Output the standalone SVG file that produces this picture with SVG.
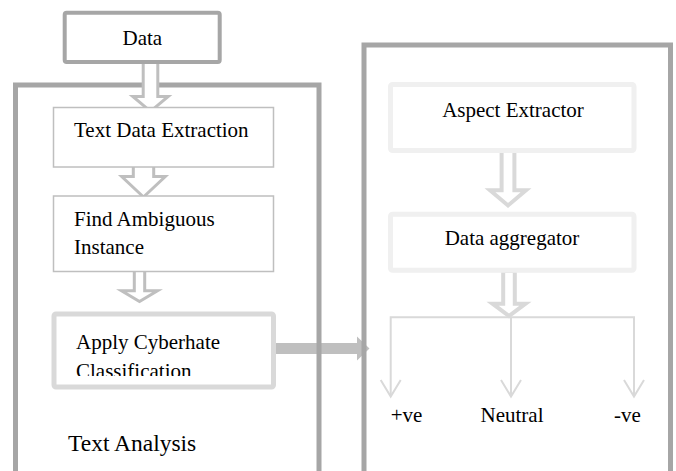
<svg xmlns="http://www.w3.org/2000/svg" width="676" height="471" viewBox="0 0 676 471">
<style>
text{font-family:"Liberation Serif","Times New Roman",serif;font-size:21px;fill:#000}
.container{fill:none;stroke:#a6a6a6;stroke-width:5}
.thin{fill:#fff;stroke:#bfbfbf;stroke-width:1.5}
.light{fill:#fff;stroke:#f0f0f0;stroke-width:5}
.hollowL{fill:#fff;stroke:#bfbfbf;stroke-width:3;stroke-linejoin:miter}
.hollowR{fill:#fff;stroke:#d9d9d9;stroke-width:4;stroke-linejoin:miter}
.split{fill:none;stroke:#d9d9d9;stroke-width:2}
</style>
<defs>
<clipPath id="clipApply"><rect x="0" y="0" width="676" height="376"/></clipPath>
</defs>
<rect width="676" height="471" fill="#fff"/>
<g id="connectors">
<polygon points="269,343 357,343 357,336.5 369.5,348.5 357,360.5 357,354 269,354" fill="#bfbfbf"/>
</g>
<g id="text-analysis">
<rect class="container" x="15.5" y="85" width="303.5" height="420"/>
<text x="68" y="450.7" style="font-size:23.5px">Text Analysis</text>
</g>
<g id="sentiment-panel">
<rect class="container" x="364" y="45" width="306.5" height="460"/>
</g>
<g id="arrows">
<polygon class="hollowL" points="143.2,58 157.8,58 157.8,96.5 168.2,96.5 150.5,111.3 132.8,96.5 143.2,96.5"/>
<polygon class="hollowL" points="133.3,164 153.7,164 153.7,176.5 165.3,176.5 143.5,197 121.7,176.5 133.3,176.5"/>
<polygon class="hollowL" points="134.3,270 144.7,270 144.7,290.8 157.5,290.8 139.5,301.5 121.5,290.8 134.3,290.8"/>
<polygon class="hollowR" points="501.6,150 514.4,150 514.4,190.3 526,190.3 508,205.5 490,190.3 501.6,190.3"/>
<polyline class="split" points="390.7,396 390.7,317.3 634,317.3 634,396"/>
<line class="split" x1="511" y1="317.3" x2="511" y2="396"/>
<polyline class="split" points="380.7,380 390.7,396.5 400.7,380"/>
<polyline class="split" points="501,380 511,396.5 521,380"/>
<polyline class="split" points="624,380 634,396.5 644,380"/>
<polygon class="hollowR" points="503.2,271 514.8,271 514.8,303.7 525.5,303.7 509,316 492.5,303.7 503.2,303.7"/>
</g>
<g id="data">
<rect x="64.7" y="12.7" width="155" height="49.3" rx="2" fill="#fff" stroke="#a6a6a6" stroke-width="4"/>
<text x="142.3" y="45" text-anchor="middle">Data</text>
</g>
<g id="text-data-extraction">
<rect class="thin" x="53.5" y="107.5" width="220" height="59.5"/>
<text x="74" y="137">Text Data Extraction</text>
</g>
<g id="find-ambiguous">
<rect class="thin" x="53.5" y="196" width="220" height="75.5"/>
<text x="74" y="225.7">Find Ambiguous</text>
<text x="74" y="254">Instance</text>
</g>
<g id="apply-cyberhate">
<rect x="54" y="314" width="219.5" height="73" rx="2" fill="#fff" stroke="#d9d9d9" stroke-width="5"/>
<text x="76" y="349">Apply Cyberhate</text>
<text x="76" y="377.5" clip-path="url(#clipApply)">Classification</text>
</g>
<g id="aspect-extractor">
<rect class="light" x="390.5" y="84.5" width="243.5" height="66" rx="2"/>
<text x="513" y="117" text-anchor="middle">Aspect Extractor</text>
</g>
<g id="data-aggregator">
<rect class="light" x="390.5" y="214.2" width="243.5" height="56" rx="2"/>
<text x="512" y="245" text-anchor="middle">Data aggregator</text>
</g>
<g id="positive"><text x="390.7" y="421.7">+ve</text></g>
<g id="neutral"><text x="512" y="421.7" text-anchor="middle">Neutral</text></g>
<g id="negative"><text x="614" y="421.7">-ve</text></g>
</svg>
